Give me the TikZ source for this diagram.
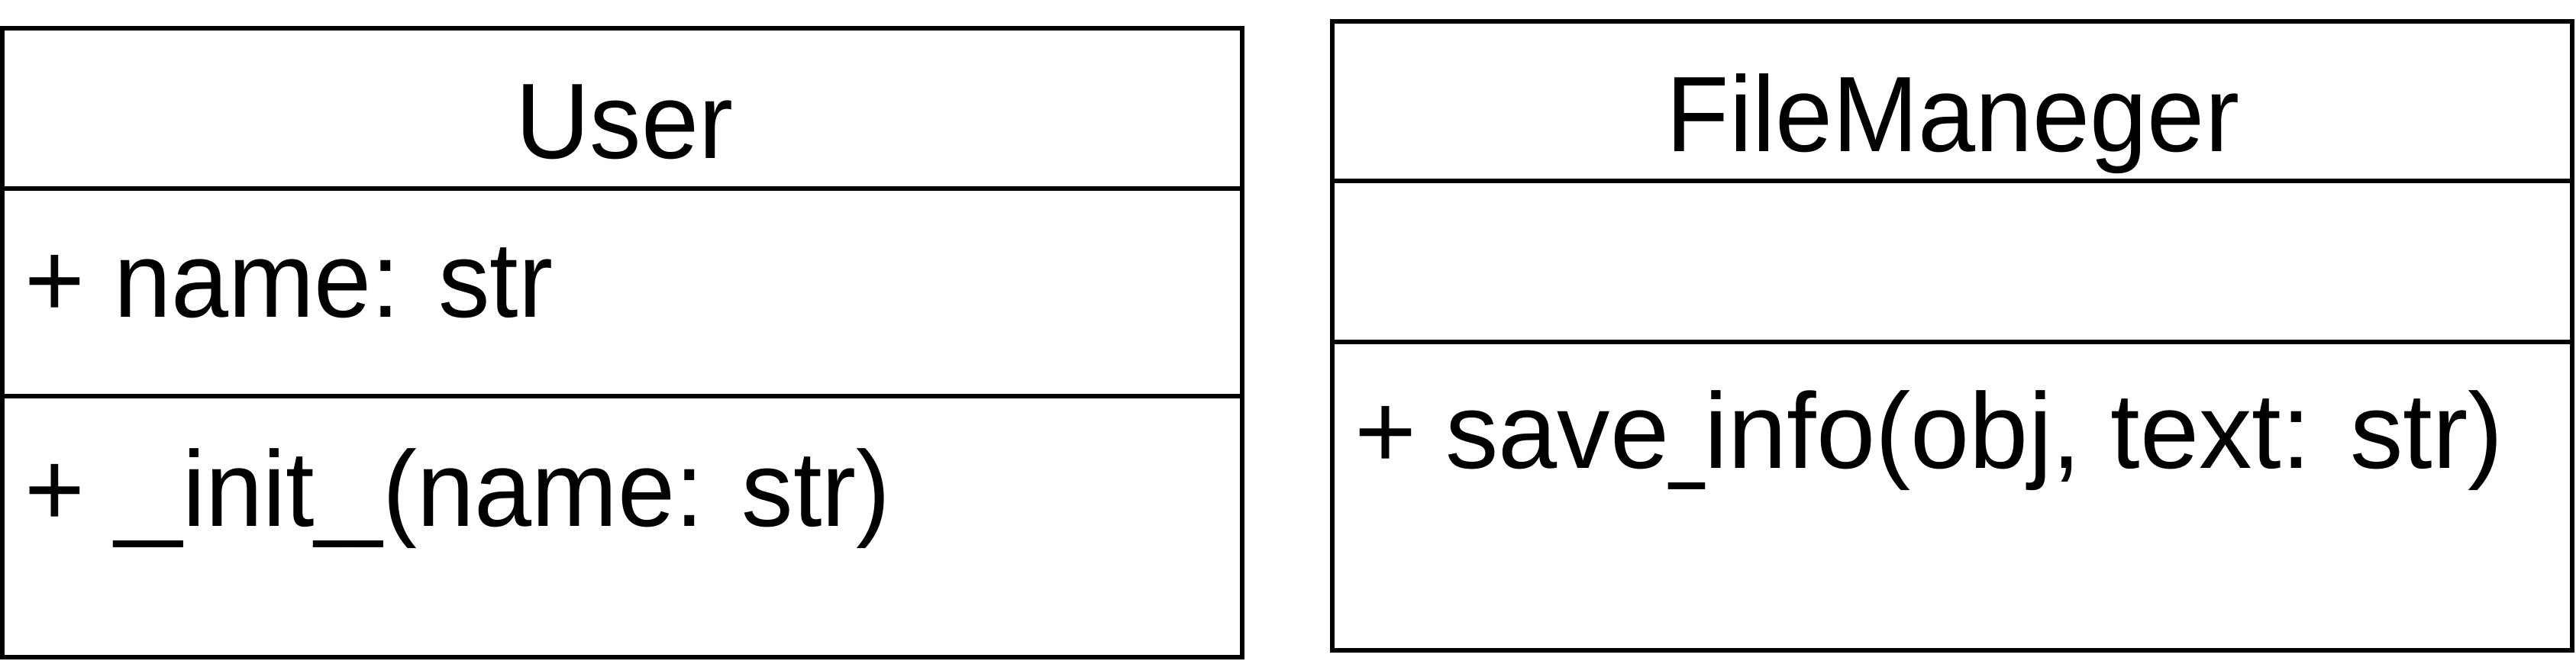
\documentclass[tikz,border=0pt]{standalone}
\usepackage{fontspec}
\setmainfont[FakeStretch=0.96]{Liberation Sans}
\usepackage{tikz}
\usetikzlibrary{calc, positioning}

% narrow underscore
\newcommand{\us}{\scalebox{0.6}[1]{\_}}

\tikzset{
  umlbox/.style={draw=black, line width=1.6pt},
  umltext/.style={inner sep=0pt, outer sep=0pt, font=\fontsize{40}{48}\selectfont}
}

\begin{document}
\begin{tikzpicture}[line cap=rect]

  \useasboundingbox (0,0) rectangle (33.74,8.65);

  \coordinate (UserNW) at (0.03,8.28);
  \coordinate (UserSE) at (16.27,0.04);
  \coordinate (FileNW) at (17.45,8.37);
  \coordinate (FileSE) at (33.69,0.13);

  % User
  \draw[umlbox] (UserNW) rectangle (UserSE);
  \draw[umlbox] (0.03,6.18) -- (16.27,6.18);
  \draw[umlbox] (0.03,3.46) -- (16.27,3.46);
  \node[umltext, anchor=base] (userTitle) at (8.18,6.58) {User};
  \node[umltext, anchor=base west] (userAttr) at (0.33,4.50) {+ name: str};
  \node[umltext, anchor=base west] (userOp) at (0.33,1.76) {+ \us\us init\us\us(name: str)};

  % FileManeger
  \draw[umlbox] (FileNW) rectangle (FileSE);
  \draw[umlbox] (17.45,6.28) -- (33.69,6.28);
  \draw[umlbox] (17.45,4.17) -- (33.69,4.17);
  \node[umltext, anchor=base] (fileTitle) at (25.58,6.67) {FileManeger};
  \node[umltext, anchor=base west] (fileOp) at (17.74,2.52) {\scalebox{1.028}[1]{+ save\us info(obj, text: str)}};

\end{tikzpicture}
\end{document}
